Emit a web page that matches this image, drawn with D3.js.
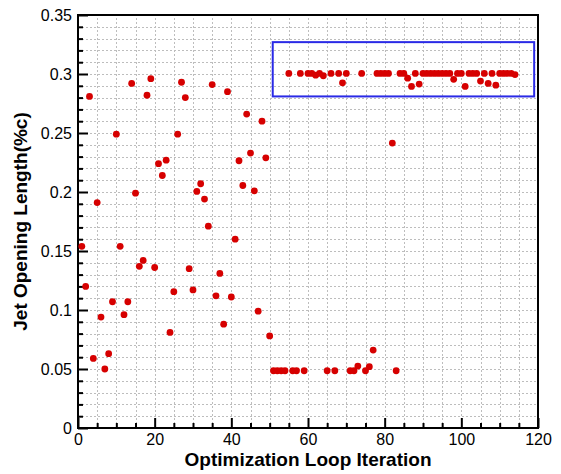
<!DOCTYPE html>
<html>
<head>
<meta charset="utf-8">
<script src="https://cdn.jsdelivr.net/npm/d3@7"></script>
<style>
  body { margin: 0; background: #fff; }
  svg { font-family: "Liberation Sans", Arial, sans-serif; }
</style>
</head>
<body>
<div id="chart"></div>
<script>
// iteration index and jet opening length
const iterations = d3.range(1, 115)
const openingLength = [
  0.154, 0.120, 0.281, 0.059, 0.191, 0.094, 0.050, 0.063, 0.107, 0.249,
  0.154, 0.096, 0.107, 0.292, 0.199, 0.137, 0.142, 0.282, 0.296, 0.136,
  0.224, 0.214, 0.227, 0.081, 0.1155, 0.249, 0.293, 0.280, 0.135, 0.117,
  0.2005, 0.207, 0.194, 0.171, 0.291, 0.112, 0.131, 0.088, 0.285, 0.111,
  0.160, 0.2265, 0.2055, 0.266, 0.233, 0.201, 0.099, 0.260, 0.229, 0.078,
  0.0485, 0.0485, 0.0485, 0.0485, 0.3005, 0.0485, 0.0485, 0.3005, 0.0485, 0.3005,
  0.3005, 0.299, 0.3005, 0.2985, 0.0485, 0.3005, 0.0485, 0.3005, 0.2925, 0.3005,
  0.0485, 0.0485, 0.0525, 0.3005, 0.0485, 0.052, 0.066, 0.3005, 0.3005, 0.3005,
  0.3005, 0.2415, 0.0485, 0.3005, 0.3005, 0.2965, 0.2895, 0.3005, 0.2915, 0.3005,
  0.3005, 0.3005, 0.3005, 0.3005, 0.3005, 0.3005, 0.3005, 0.2955, 0.3005, 0.3005,
  0.2895, 0.3005, 0.3005, 0.3005, 0.294, 0.3005, 0.292, 0.3005, 0.2905, 0.3005,
  0.3005, 0.3005, 0.3005, 0.2995
]
const xTicks = [0, 20, 40, 60, 80, 100, 120]
const yTicks = [0, 0.05, 0.1, 0.15, 0.2, 0.25, 0.3, 0.35]
// converged region marked with a box
const boxX = [50.8, 119]
const boxY = [0.281, 0.327]

const width = 561, height = 474
const padding = { top: 15, right: 23, bottom: 46, left: 78 }

const data = iterations.map((it, i) => ({ it: it, v: openingLength[i] }))

const svg = d3.select('#chart')
  .append('svg')
  .attr('width', width)
  .attr('height', height)

const xScale = d3.scaleLinear()
  .domain([0, 120])
  .range([padding.left, width - padding.right])
const yScale = d3.scaleLinear()
  .domain([0, 0.35])
  .range([height - padding.bottom, padding.top])

const x0 = xScale(0), x1 = xScale(120), y0 = yScale(0), y1 = yScale(0.35)

// dotted grid
const grid = svg.append('g')
  .attr('stroke', '#bdbdbd')
  .attr('stroke-width', 1)
  .attr('stroke-dasharray', '2,2')
grid.selectAll('.gx')
  .data(d3.range(5, 120, 5))
  .enter().append('line')
  .attr('x1', d => Math.round(xScale(d)) + 0.5)
  .attr('x2', d => Math.round(xScale(d)) + 0.5)
  .attr('y1', y0)
  .attr('y2', y1)
grid.selectAll('.gy')
  .data(d3.range(1, 35).map(d => d / 100))
  .enter().append('line')
  .attr('y1', d => Math.round(yScale(d)) + 0.5)
  .attr('y2', d => Math.round(yScale(d)) + 0.5)
  .attr('x1', x0)
  .attr('x2', x1)

// axes, ticks pointing inwards
const xAxis = d3.axisBottom(xScale)
  .tickValues(xTicks)
  .tickSize(-10)
  .tickPadding(6)
  .tickFormat(d3.format('d'))
const xMinor = d3.axisBottom(xScale)
  .tickValues(d3.range(5, 120, 5).filter(d => d % 20 !== 0))
  .tickSize(-5)
  .tickFormat('')
const yAxis = d3.axisLeft(yScale)
  .tickValues(yTicks)
  .tickSize(-10)
  .tickPadding(6)
  .tickFormat(d => d === 0 ? '0' : String(+d.toFixed(2)))
const yMinor = d3.axisLeft(yScale)
  .tickValues(d3.range(1, 35).filter(d => d % 5 !== 0).map(d => d / 100))
  .tickSize(-5)
  .tickFormat('')

function styleAxis(g) {
  g.select('.domain').remove()
  g.selectAll('line').attr('stroke', '#000').attr('stroke-width', 2)
  g.selectAll('text').attr('fill', '#000').attr('font-size', 16)
}

svg.append('g')
  .attr('transform', 'translate(0,' + y0 + ')')
  .call(xMinor).call(styleAxis)
svg.append('g')
  .attr('transform', 'translate(0,' + y0 + ')')
  .call(xAxis).call(styleAxis)
svg.append('g')
  .attr('transform', 'translate(' + x0 + ',0)')
  .call(yMinor).call(styleAxis)
svg.append('g')
  .attr('transform', 'translate(' + x0 + ',0)')
  .call(yAxis).call(styleAxis)

// frame
svg.append('rect')
  .attr('x', x0)
  .attr('y', y1)
  .attr('width', x1 - x0)
  .attr('height', y0 - y1)
  .attr('fill', 'none')
  .attr('stroke', '#000')
  .attr('stroke-width', 2)

// points
svg.append('g')
  .selectAll('circle')
  .data(data)
  .enter().append('circle')
  .attr('cx', d => xScale(d.it))
  .attr('cy', d => yScale(d.v))
  .attr('r', 3.4)
  .attr('fill', '#d60000')

// highlight box
svg.append('rect')
  .attr('x', xScale(boxX[0]))
  .attr('y', yScale(boxY[1]))
  .attr('width', xScale(boxX[1]) - xScale(boxX[0]))
  .attr('height', yScale(boxY[0]) - yScale(boxY[1]))
  .attr('fill', 'none')
  .attr('stroke', '#2a2ae6')
  .attr('stroke-width', 2)

// axis titles
svg.append('text')
  .attr('x', (x0 + x1) / 2)
  .attr('y', 466)
  .attr('text-anchor', 'middle')
  .attr('font-size', 19)
  .attr('font-weight', 'bold')
  .text('Optimization Loop Iteration')
svg.append('text')
  .attr('transform', 'translate(27,' + ((y0 + y1) / 2) + ') rotate(-90)')
  .attr('text-anchor', 'middle')
  .attr('font-size', 19)
  .attr('font-weight', 'bold')
  .text('Jet Opening Length(%c)')
</script>
</body>
</html>
